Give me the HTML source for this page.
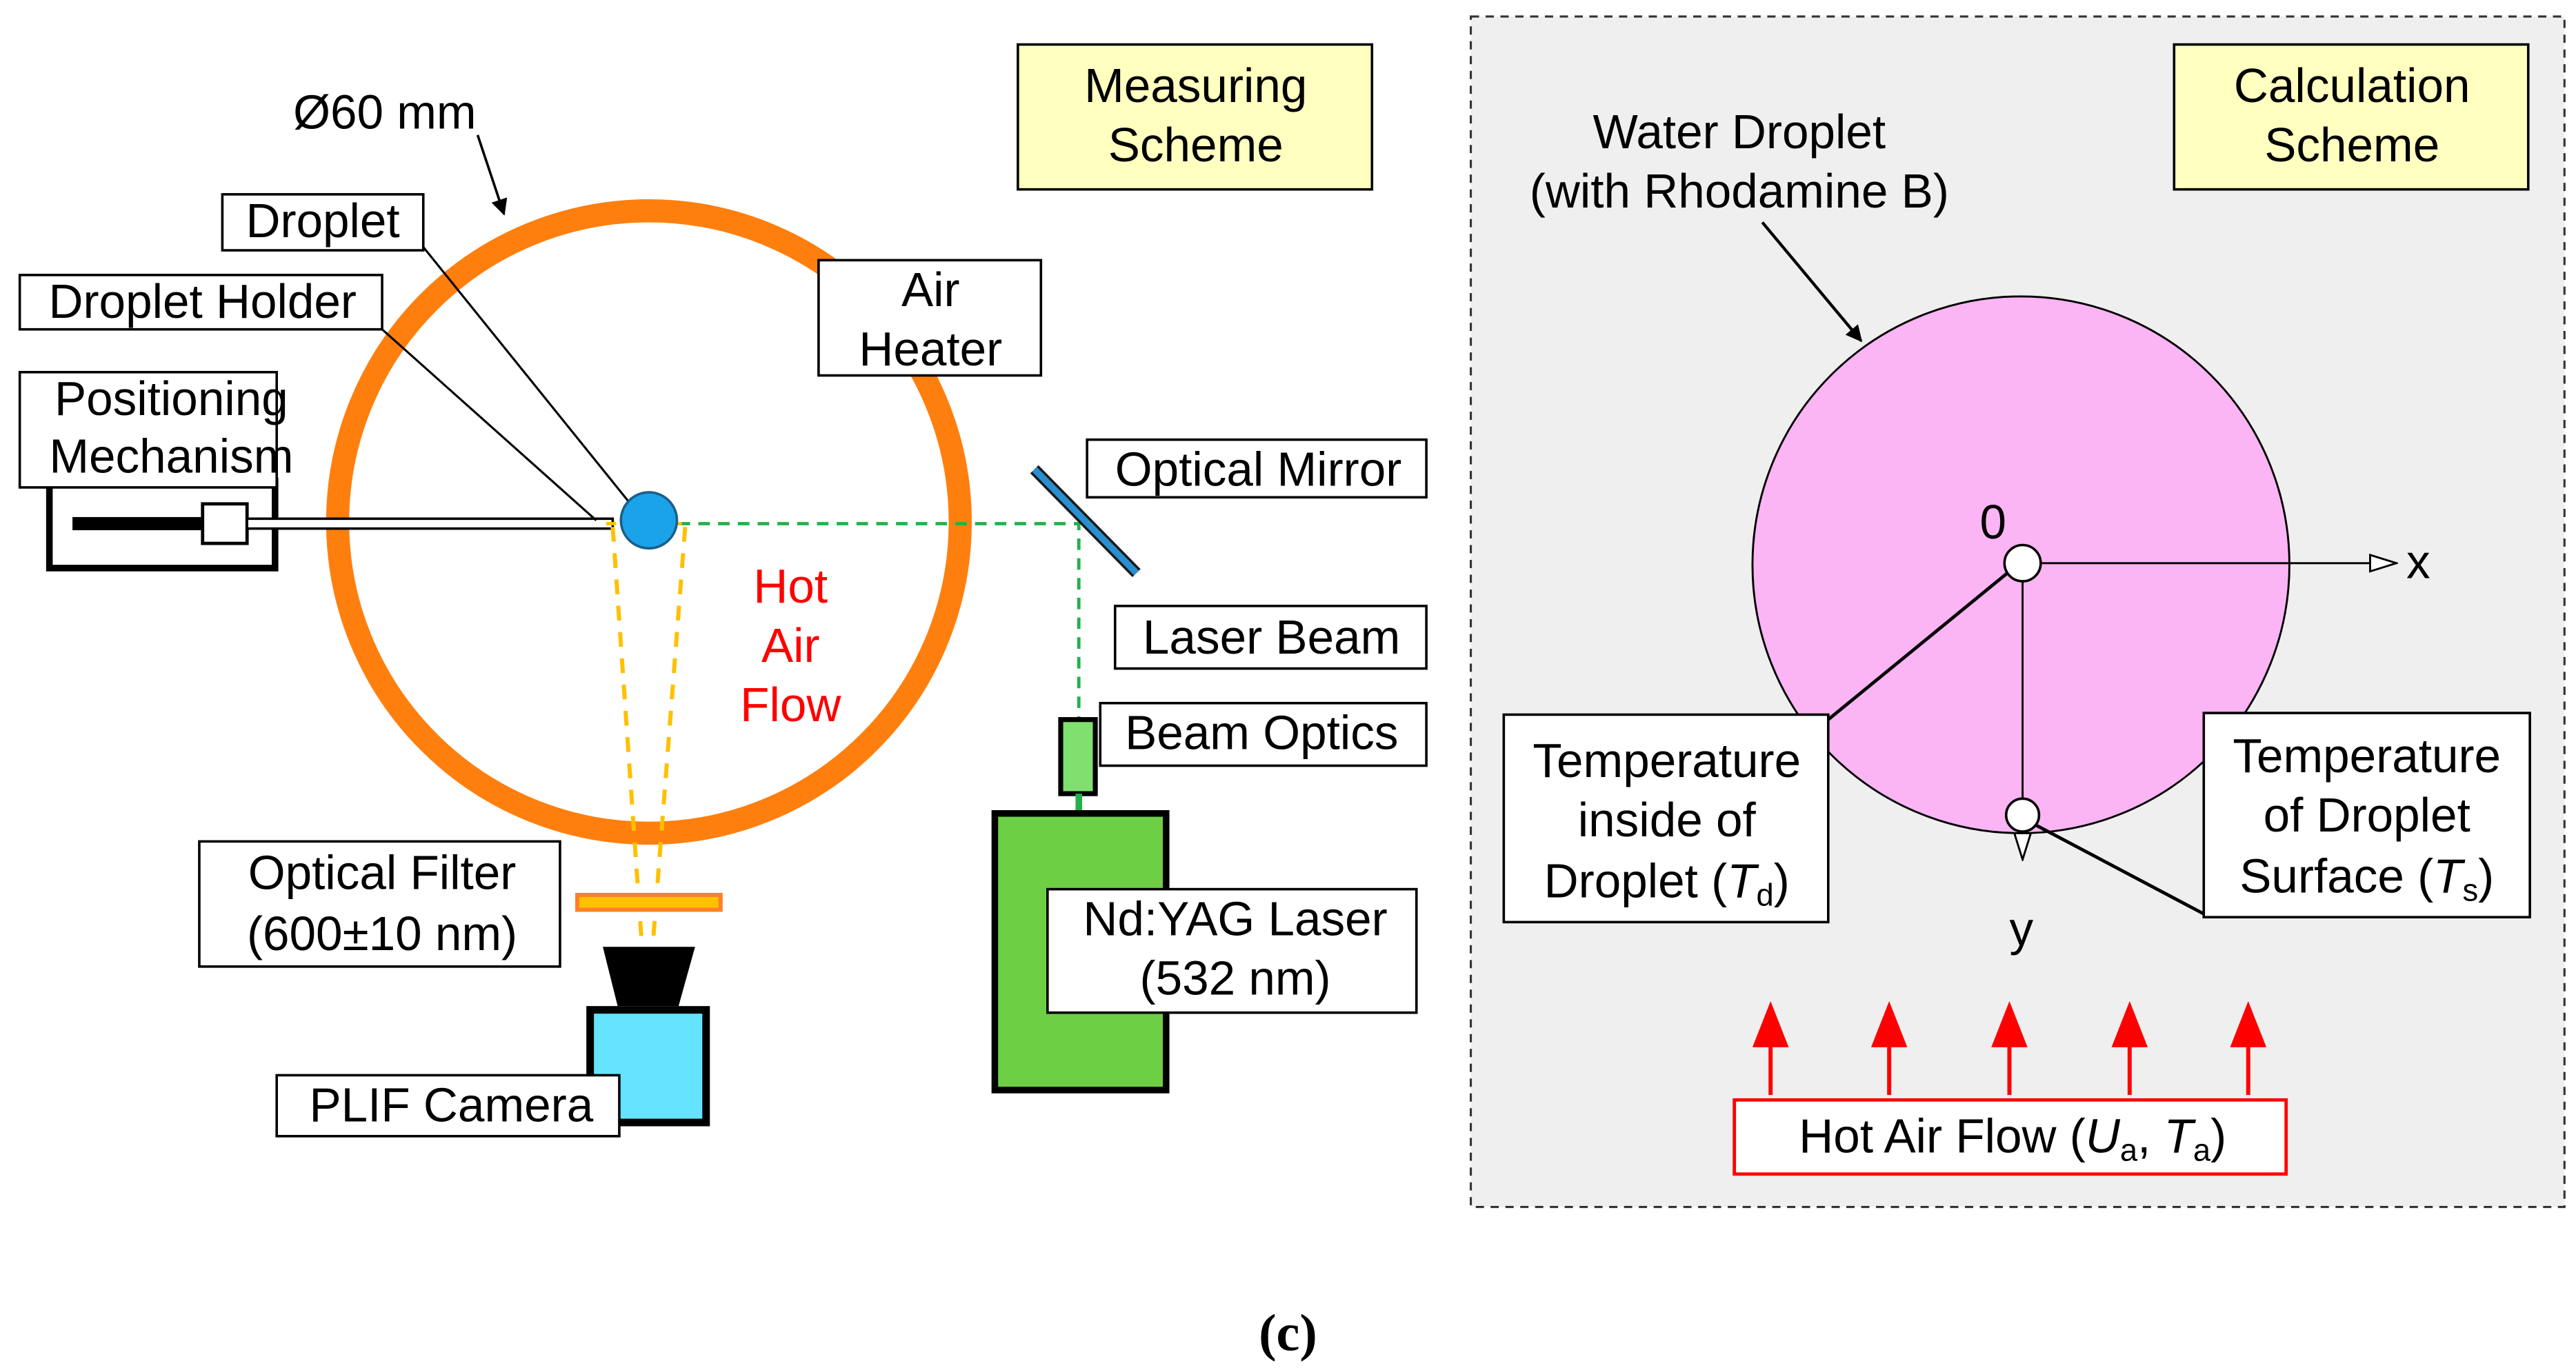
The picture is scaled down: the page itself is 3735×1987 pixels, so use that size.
<!DOCTYPE html>
<html><head><style>html,body{margin:0;padding:0;background:#fff}svg{display:block}
text{font-family:"Liberation Sans",Arial,sans-serif;font-size:29px;fill:#000}</style></head>
<body>
<svg width="3735" height="1987" viewBox="0 0 1564 832" xmlns="http://www.w3.org/2000/svg">
<defs>
<marker id="ab" markerWidth="10" markerHeight="10" refX="9" refY="5" orient="auto" markerUnits="userSpaceOnUse"><path d="M0,0 L10,5 L0,10 z" fill="#000"/></marker>
<marker id="oa" markerWidth="18" markerHeight="12" refX="17" refY="6" orient="auto" markerUnits="userSpaceOnUse"><path d="M1,1 L17,6 L1,11 z" fill="#fff" stroke="#000" stroke-width="1.2"/></marker>
</defs>
<rect x="893" y="10" width="664" height="723" fill="#efefef" stroke="#333" stroke-width="1.3" stroke-dasharray="5,4"/>
<circle cx="394" cy="317" r="189" fill="none" stroke="#ff7f0e" stroke-width="14"/>
<rect x="30" y="292" width="137" height="53" fill="#fff" stroke="#000" stroke-width="4"/>
<rect x="44" y="314" width="80" height="8" fill="#000"/>
<rect x="123" y="306" width="27" height="24" fill="#fff" stroke="#000" stroke-width="2"/>
<rect x="150" y="315" width="222" height="6" fill="#fff" stroke="#000" stroke-width="1.5"/>
<line x1="257" y1="150" x2="386" y2="310" stroke="#000" stroke-width="1.3"/>
<line x1="232" y1="200" x2="362" y2="316" stroke="#000" stroke-width="1.3"/>
<line x1="290" y1="82" x2="306" y2="130" stroke="#000" stroke-width="1.5" marker-end="url(#ab)"/>
<text x="178" y="78">Ø60 mm</text>
<polyline points="400,318 655,318 655,438" fill="none" stroke="#22b14c" stroke-width="2" stroke-dasharray="7,5"/>
<line x1="628" y1="285" x2="690" y2="348" stroke="#1a1a1a" stroke-width="7"/>
<line x1="628" y1="285" x2="690" y2="348" stroke="#2a8fd0" stroke-width="4"/>
<line x1="372" y1="320" x2="390" y2="578" stroke="#ffc000" stroke-width="2.5" stroke-dasharray="9,7"/>
<line x1="416" y1="320" x2="396" y2="578" stroke="#ffc000" stroke-width="2.5" stroke-dasharray="9,7"/>
<line x1="368" y1="318" x2="418" y2="318" stroke="#ffc000" stroke-width="2" stroke-dasharray="6,4"/>
<circle cx="394" cy="316" r="17" fill="#1aa3e8" stroke="#1a5f8a" stroke-width="1.5"/>
<rect x="350.5" y="543.5" width="87" height="9" fill="#ffc000" stroke="#ff7f27" stroke-width="2.5"/>
<polygon points="366,575 422,575 412,611 375,611" fill="#000"/>
<rect x="358.3" y="613.3" width="70.4" height="68.4" fill="#66e3ff" stroke="#000" stroke-width="4.6"/>
<rect x="644" y="437" width="21" height="45" fill="#7fe06f" stroke="#000" stroke-width="3"/>
<line x1="655" y1="482" x2="655" y2="493" stroke="#22b14c" stroke-width="4"/>
<rect x="604" y="494" width="104" height="168" fill="#6dcf44" stroke="#000" stroke-width="4"/>
<g fill="#fff" stroke="#000" stroke-width="1.5">
<rect x="135" y="118" width="122" height="34"/>
<rect x="12" y="167" width="220" height="33"/>
<rect x="12" y="226" width="156" height="70"/>
<rect x="497" y="158" width="135" height="70"/>
<rect x="660" y="267" width="206" height="35"/>
<rect x="677" y="368" width="189" height="38"/>
<rect x="668" y="427" width="198" height="38"/>
<rect x="636" y="540" width="224" height="75"/>
<rect x="121" y="511" width="219" height="76"/>
<rect x="168" y="653" width="208" height="37"/>
</g>
<rect x="618" y="27" width="215" height="88" fill="#ffffc0" stroke="#000" stroke-width="1.5"/>
<rect x="1320" y="27" width="215" height="88" fill="#ffffc0" stroke="#000" stroke-width="1.5"/>
<g text-anchor="middle">
<text x="196" y="144">Droplet</text>
<text x="123" y="193">Droplet Holder</text>
<text x="104" y="252">Positioning</text><text x="104" y="287">Mechanism</text>
<text x="565" y="186">Air</text><text x="565" y="222">Heater</text>
<text x="764" y="295">Optical Mirror</text>
<text x="772" y="397">Laser Beam</text>
<text x="766" y="455">Beam Optics</text>
<text x="750" y="568">Nd:YAG Laser</text><text x="750" y="604">(532 nm)</text>
<text x="232" y="540">Optical Filter</text><text x="232" y="577">(600±10 nm)</text>
<text x="274" y="681">PLIF Camera</text>
<text x="726" y="62">Measuring</text><text x="726" y="98">Scheme</text>
<text x="1428" y="62">Calculation</text><text x="1428" y="98">Scheme</text>
<text x="480" y="366" style="fill:#ff0000">Hot</text>
<text x="480" y="402" style="fill:#ff0000">Air</text>
<text x="480" y="438" style="fill:#ff0000">Flow</text>
<text x="1056" y="90">Water Droplet</text><text x="1056" y="126">(with Rhodamine B)</text>
<text x="782" y="820" style="font-family:'Liberation Serif',serif;font-weight:bold;font-size:32px">(c)</text>
</g>
<line x1="1070" y1="135" x2="1130" y2="207" stroke="#000" stroke-width="1.8" marker-end="url(#ab)"/>
<circle cx="1227" cy="343" r="163" fill="#fbb4f4" stroke="#000" stroke-width="1.2"/>
<line x1="1238" y1="342" x2="1455" y2="342" stroke="#000" stroke-width="1.2" marker-end="url(#oa)"/>
<line x1="1228" y1="353" x2="1228" y2="522" stroke="#000" stroke-width="1.2" marker-end="url(#oa)"/>
<line x1="1220" y1="347" x2="1110" y2="437" stroke="#000" stroke-width="2"/>
<line x1="1234" y1="500" x2="1338" y2="555" stroke="#000" stroke-width="2"/>
<circle cx="1228" cy="342" r="11" fill="#fff" stroke="#000" stroke-width="1.5"/>
<circle cx="1228" cy="495" r="10" fill="#fff" stroke="#000" stroke-width="1.5"/>
<text x="1202" y="327">0</text>
<text x="1461" y="351">x</text>
<text x="1220" y="574">y</text>
<rect x="913" y="434" width="197" height="126" fill="#fff" stroke="#000" stroke-width="1.5"/>
<rect x="1338" y="433" width="198" height="124" fill="#fff" stroke="#000" stroke-width="1.5"/>
<g text-anchor="middle">
<text x="1012" y="472">Temperature</text><text x="1012" y="508">inside of</text>
<text x="1012" y="545">Droplet (<tspan font-style="italic">T</tspan><tspan font-size="19" dy="5">d</tspan><tspan dy="-5">)</tspan></text>
<text x="1437" y="469">Temperature</text><text x="1437" y="505">of Droplet</text>
<text x="1437" y="542">Surface (<tspan font-style="italic">T</tspan><tspan font-size="19" dy="5">s</tspan><tspan dy="-5">)</tspan></text>
</g>
<g fill="#ff0000" stroke="#ff0000" stroke-width="2.5">
<line x1="1075" y1="665" x2="1075" y2="630"/><polygon points="1064,636 1086,636 1075,608" stroke="none"/>
<line x1="1147" y1="665" x2="1147" y2="630"/><polygon points="1136,636 1158,636 1147,608" stroke="none"/>
<line x1="1220" y1="665" x2="1220" y2="630"/><polygon points="1209,636 1231,636 1220,608" stroke="none"/>
<line x1="1293" y1="665" x2="1293" y2="630"/><polygon points="1282,636 1304,636 1293,608" stroke="none"/>
<line x1="1365" y1="665" x2="1365" y2="630"/><polygon points="1354,636 1376,636 1365,608" stroke="none"/>
</g>
<rect x="1053" y="668" width="335" height="45" fill="#fff" stroke="#ff0000" stroke-width="2"/>
<text x="1222" y="700" text-anchor="middle">Hot Air Flow (<tspan font-style="italic">U</tspan><tspan font-size="19" dy="5">a</tspan><tspan dy="-5">, </tspan><tspan font-style="italic">T</tspan><tspan font-size="19" dy="5">a</tspan><tspan dy="-5">)</tspan></text>
</svg>
</body></html>
